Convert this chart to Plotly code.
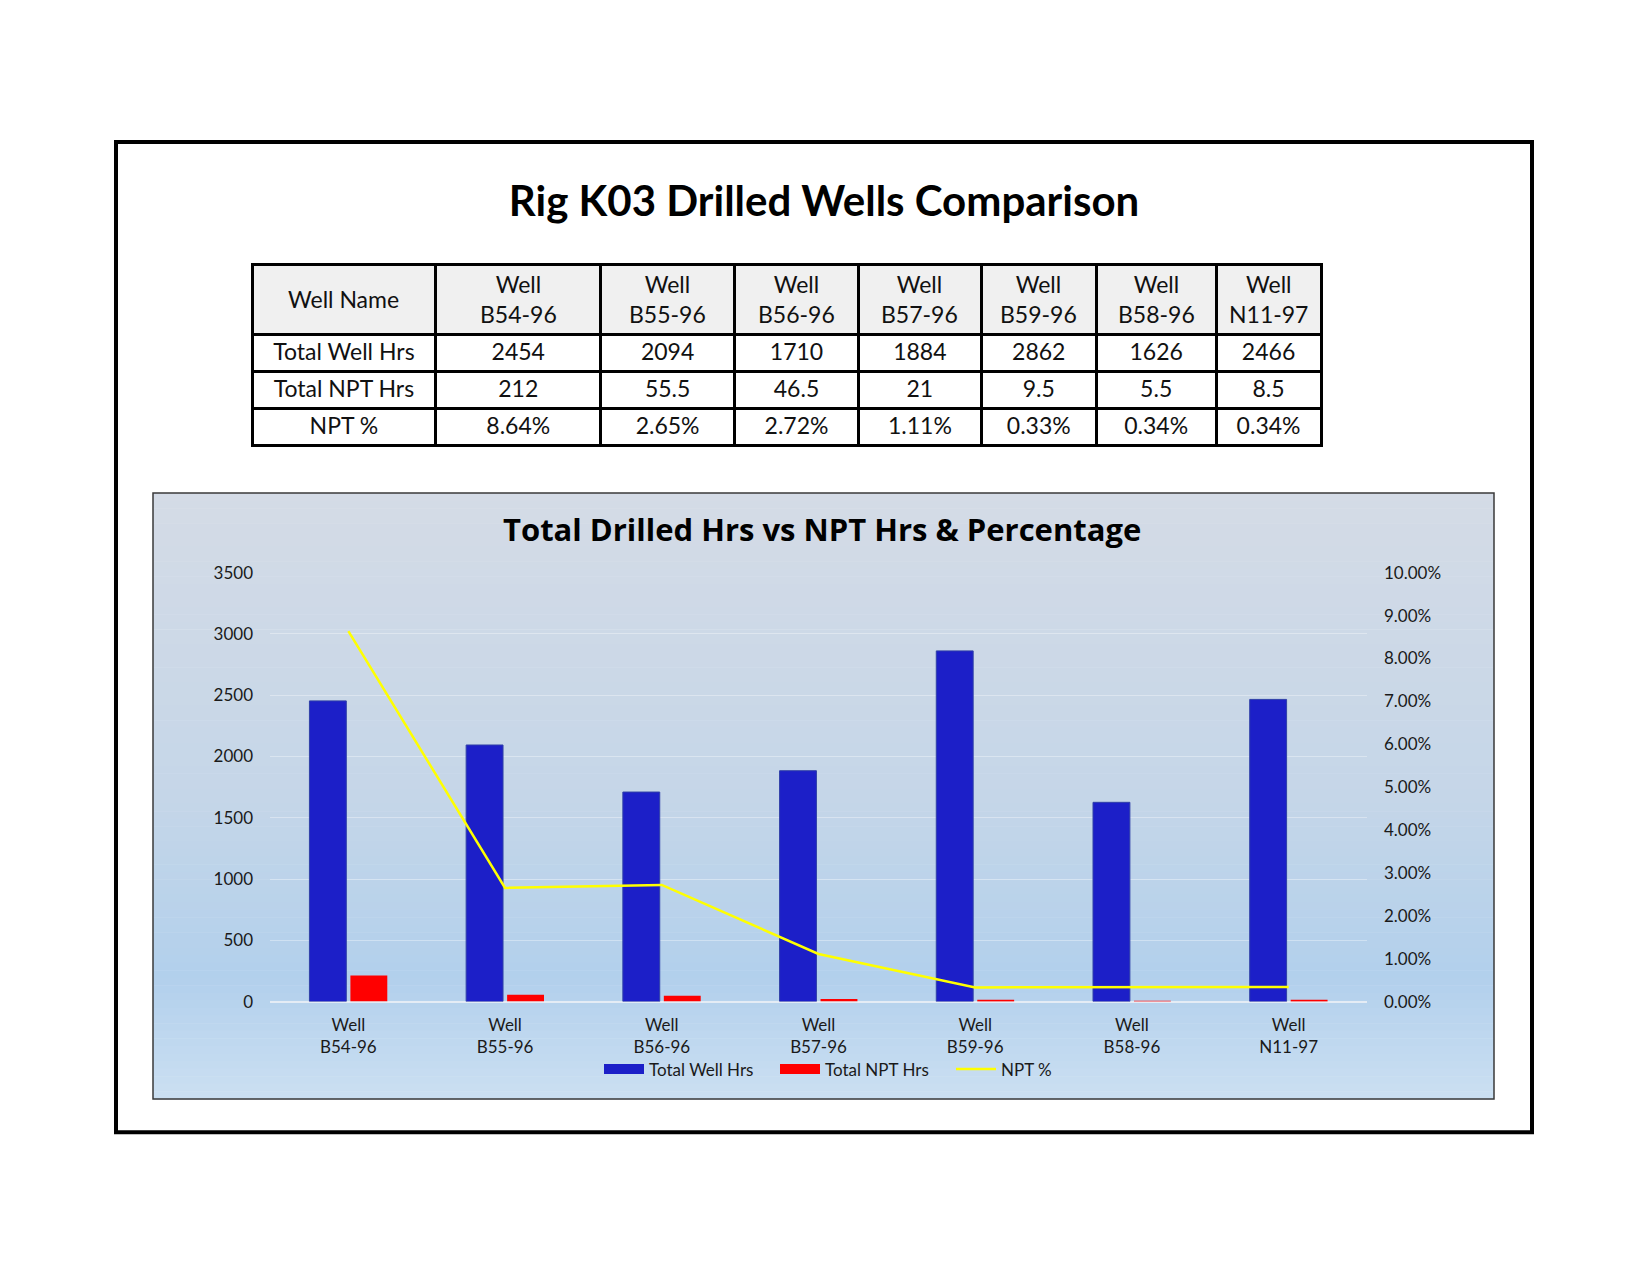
import plotly.graph_objects as go

# well data
wells = ["B54-96", "B55-96", "B56-96", "B57-96", "B59-96", "B58-96", "N11-97"]
total_well_hrs = [2454, 2094, 1710, 1884, 2862, 1626, 2466]
total_npt_hrs = [212, 55.5, 46.5, 21, 9.5, 5.5, 8.5]
npt_pct = [0.0864, 0.0265, 0.0272, 0.0111, 0.0033, 0.0034, 0.0034]
row_names = ["Total Well Hrs", "Total NPT Hrs", "NPT %"]

W, H = 1650, 1275
FONT = "Lato"
BLUE, RED, YELLOW = "#1c1fc8", "#ff0000", "#ffff00"


def px_x(v):
    return v / W


def px_y(v):
    return 1 - v / H


labels = ["Well<br>" + w for w in wells]

fig = go.Figure()

# table at the top; header text goes in as annotations so each line is centred
tbl_l, tbl_r, tbl_top = 244, 1313, 250
col_w = [184, 165, 134, 124, 123, 115, 120, 105]
head_h = 70
cell_vals = [row_names]
for i in range(len(wells)):
    cell_vals.append([f"{total_well_hrs[i]:g}", f"{total_npt_hrs[i]:g}", f"{npt_pct[i]:.2%}"])

fig.add_trace(go.Table(
    domain=dict(x=[px_x(tbl_l), px_x(tbl_r)], y=[px_y(470), px_y(tbl_top)]),
    columnwidth=col_w,
    header=dict(values=[""] * len(col_w), height=head_h, fill_color="#f0f0f0",
                line=dict(color="black", width=3)),
    cells=dict(values=cell_vals, height=37, fill_color="white",
               line=dict(color="black", width=3),
               font=dict(family=FONT, size=23, color="#111111"), align="center"),
))

annotations = []
scale = (tbl_r - tbl_l) / sum(col_w)
left = tbl_l
for text, w in zip(["Well Name"] + labels, col_w):
    annotations.append(dict(text=text, xref="paper", yref="paper",
                            x=px_x(left + w * scale / 2), y=px_y(tbl_top + head_h / 2),
                            xanchor="center", yanchor="middle", align="center", showarrow=False,
                            font=dict(family=FONT, size=23, color="#111111")))
    left += w * scale

annotations.append(dict(text="<b>Total Drilled Hrs vs NPT Hrs & Percentage</b>", xref="paper", yref="paper",
                        x=px_x(814), y=px_y(519), xanchor="center", yanchor="middle", showarrow=False,
                        font=dict(family="Open Sans", size=31, color="black")))

# combo chart
fig.add_trace(go.Bar(x=labels, y=total_well_hrs, name="Total Well Hrs", showlegend=False,
                     marker=dict(color=BLUE, line=dict(color="#3040a8", width=1))))
fig.add_trace(go.Bar(x=labels, y=total_npt_hrs, name="Total NPT Hrs", showlegend=False,
                     marker=dict(color=RED, line=dict(width=0))))
fig.add_trace(go.Scatter(x=labels, y=npt_pct, name="NPT %", mode="lines", showlegend=False,
                         line=dict(color=YELLOW, width=2.5), yaxis="y2"))

# legend entries with wide swatches like the spreadsheet legend
fig.add_trace(go.Scatter(x=[None], y=[None], mode="lines", name="Total Well Hrs",
                         line=dict(color=BLUE, width=12)))
fig.add_trace(go.Scatter(x=[None], y=[None], mode="lines", name="Total NPT Hrs",
                         line=dict(color=RED, width=12)))
fig.add_trace(go.Scatter(x=[None], y=[None], mode="lines", name="NPT %",
                         line=dict(color=YELLOW, width=2.5)))

# gradient background of the chart box, built from thin bands
stops = [(0.0, (212, 219, 230)), (0.5, (197, 214, 232)), (0.8, (178, 208, 236)), (1.0, (203, 223, 242))]


def grad(t):
    for (t0, c0), (t1, c1) in zip(stops[:-1], stops[1:]):
        if t <= t1:
            f = (t - t0) / (t1 - t0)
            return "rgb(%d,%d,%d)" % tuple(round(a + (b - a) * f) for a, b in zip(c0, c1))
    return "rgb(%d,%d,%d)" % stops[-1][1]


box_top, box_bot, box_l, box_r = 482, 1098, 145, 1486
n = 80
shapes = []
for k in range(n):
    y0 = box_top + (box_bot - box_top) * k / n
    y1 = box_top + (box_bot - box_top) * (k + 1) / n + 0.5
    shapes.append(dict(type="rect", xref="paper", yref="paper", layer="below",
                       x0=px_x(box_l), x1=px_x(box_r), y0=px_y(y1), y1=px_y(y0),
                       fillcolor=grad((k + 0.5) / n), line=dict(width=0)))
shapes.append(dict(type="rect", xref="paper", yref="paper", layer="below",
                   x0=px_x(box_l), x1=px_x(box_r), y0=px_y(box_bot), y1=px_y(box_top),
                   line=dict(color="#3a3a3a", width=1.5)))
# page frame
shapes.append(dict(type="rect", xref="paper", yref="paper",
                   x0=px_x(108), x1=px_x(1524), y0=px_y(1132), y1=px_y(125),
                   line=dict(color="black", width=4)))

fig.update_layout(
    width=W, height=H, autosize=False,
    margin=dict(l=0, r=0, t=0, b=0),
    paper_bgcolor="white", plot_bgcolor="rgba(0,0,0,0)",
    font=dict(family=FONT, color="#111111"),
    title=dict(text="<b>Rig K03 Drilled Wells Comparison</b>", x=px_x(816), y=px_y(193),
               xanchor="center", yanchor="middle", font=dict(family=FONT, size=42, color="black")),
    barmode="group", bargap=0.477, bargroupgap=0.1,
    shapes=shapes,
    annotations=annotations,
    xaxis=dict(domain=[px_x(262), px_x(1359)], showgrid=False, showline=False,
               tickfont=dict(size=17, color="#1a1a1a"), ticklabelstandoff=11),
    yaxis=dict(domain=[px_y(999), px_y(563)], range=[0, 3500], dtick=500,
               showgrid=True, gridcolor="rgba(255,255,255,0.35)", gridwidth=1,
               zeroline=True, zerolinecolor="#e4ecf5", zerolinewidth=2,
               tickfont=dict(size=17, color="#1a1a1a"), ticklabelstandoff=16),
    yaxis2=dict(overlaying="y", side="right", range=[0, 0.1], dtick=0.01, tickformat=".2%",
                showgrid=False, zeroline=False,
                tickfont=dict(size=17, color="#1a1a1a"), ticklabelstandoff=16),
    legend=dict(orientation="h", x=px_x(591), xanchor="left", y=px_y(1068), yanchor="middle",
                bgcolor="rgba(0,0,0,0)", font=dict(size=17, color="#1a1a1a"), itemwidth=40,
                entrywidth=121, entrywidthmode="pixels"),
)

fig.write_html("out.html")
